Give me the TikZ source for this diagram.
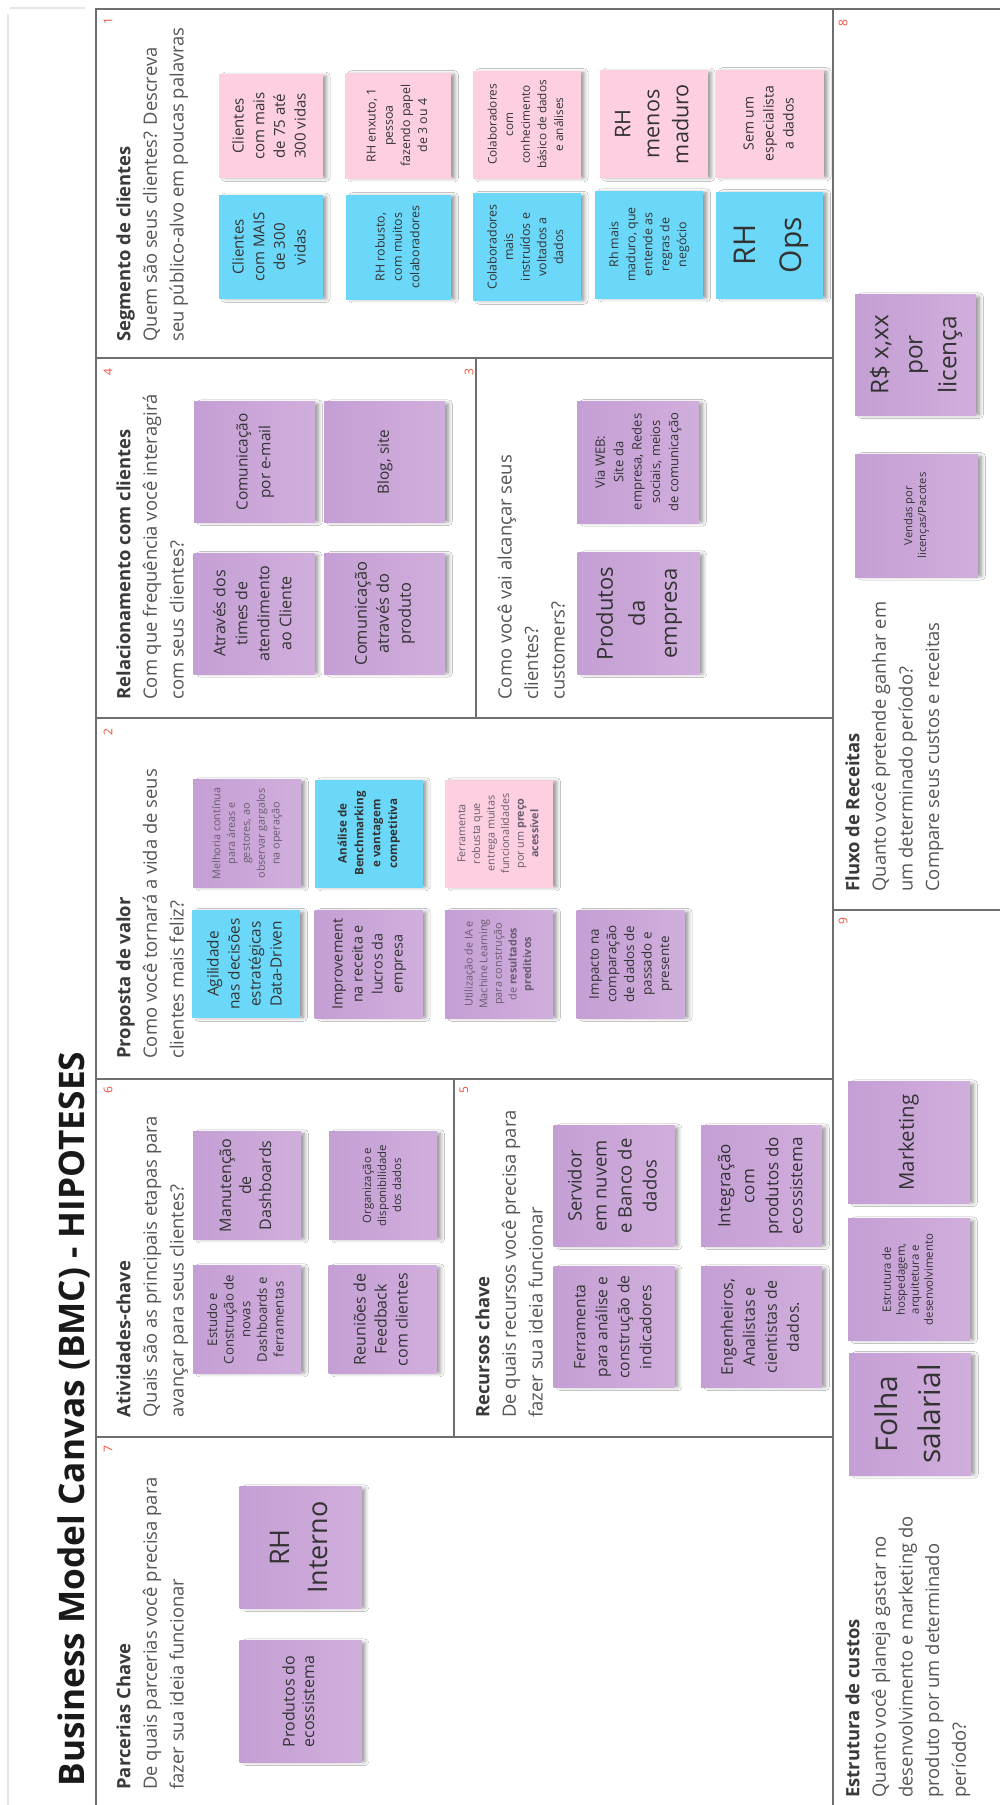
\documentclass[tikz,border=0pt]{standalone}
\usepackage{fontspec}
\setmainfont{Open Sans}
\usetikzlibrary{shadows.blur}

\definecolor{notepink}{HTML}{FDCFE1}
\definecolor{noteblue}{HTML}{6CD8F9}
\definecolor{lilacL}{HTML}{C49FD4}
\definecolor{lilacR}{HTML}{D0AEDC}
\definecolor{ink}{HTML}{333333}
\definecolor{softink}{HTML}{6A5C70}
\definecolor{headdark}{HTML}{3A3A3A}
\definecolor{headgray}{HTML}{555555}
\definecolor{numred}{HTML}{F0503C}
\definecolor{framegray}{HTML}{6E6E6E}

% rotated note text: size, skip, lines
\newcommand{\nt}[3]{\rotatebox{90}{\fontsize{#1}{#2}\selectfont\begin{tabular}{@{}c@{}}#3\end{tabular}}}

\tikzset{
  sticky/.style={minimum width=#1, minimum height=#1, inner sep=0pt, text=ink,
    blur shadow={shadow xshift=2.6pt, shadow yshift=-0.4pt, shadow scale=0.97, shadow blur steps=6, shadow opacity=45}},
  pinknote/.style={sticky=#1, fill=notepink},
  bluenote/.style={sticky=#1, fill=noteblue},
  lilacnote/.style={sticky=#1, left color=lilacL, right color=lilacR}
}
\tikzstyle{head} = [rotate=90, anchor=north west, align=left, inner sep=0pt, text=headgray, font=\fontsize{9.2}{13.3}\selectfont]
\tikzstyle{num} = [rotate=90, inner sep=0pt, text=numred, font=\fontsize{6}{7}\selectfont]
\tikzstyle{frame} = [draw=framegray, line width=1pt]

\begin{document}
\begin{tikzpicture}[x=0.5pt, y=-0.5pt]
        \useasboundingbox[fill=white] (0,0) rectangle (1000,1805);

        % canvas frame
        \draw[black!10, line width=1pt] (8,14) -- (8,1805);
        \draw[black!10, line width=1pt] (10,8) -- (85,8);
        \draw[frame] (96,1805) -- (96,9) -- (1000,9);
        \draw[frame] (833,9) -- (833,1805);
        \draw[frame] (96,358) -- (833,358);
        \draw[frame] (96,718) -- (833,718);
        \draw[frame] (96,1079) -- (833,1079);
        \draw[frame] (96,1437) -- (833,1437);
        \draw[frame] (476,358) -- (476,718);
        \draw[frame] (454,1079) -- (454,1437);
        \draw[frame] (833,910) -- (1000,910);

        \node[rotate=90, anchor=west, inner sep=0pt, text=black!90, font=\bfseries\fontsize{17.6}{20}\selectfont] (title) at (74,1787) {Business Model Canvas (BMC) - HIPOTESES};

        % box numbers
        \node[num] (n1) at (108,21) {1};
        \node[num] (n8) at (843,23) {8};
        \node[num] (n4) at (108,372) {4};
        \node[num] (n3) at (469,372) {3};
        \node[num] (n2) at (108,732) {2};
        \node[num] (n9) at (843,921) {9};
        \node[num] (n6) at (108,1090) {6};
        \node[num] (n5) at (464,1090) {5};
        \node[num] (n7) at (108,1449) {7};

        % headings
        \node[head] (segHead) at (116,342) {\textbf{\color{headdark}Segmento de clientes}\\Quem são seus clientes? Descreva\\seu público-alvo em poucas palavras};
        \node[head] (relHead) at (116,700) {\textbf{\color{headdark}Relacionamento com clientes}\\Com que frequência você interagirá\\com seus clientes?};
        \node[head] (canHead) at (497,700) {Como você vai alcançar seus\\clientes?\\customers?};
        \node[head] (valHead) at (116,1059) {\textbf{\color{headdark}Proposta de valor}\\Como você tornará a vida de seus\\clientes mais feliz?};
        \node[head] (atvHead) at (116,1418) {\textbf{\color{headdark}Atividades-chave}\\Quais são as principais etapas para\\avançar para seus clientes?};
        \node[head] (rcsHead) at (475,1418) {\textbf{\color{headdark}Recursos chave}\\De quais recursos você precisa para\\fazer sua ideia funcionar};
        \node[head] (parHead) at (116,1790) {\textbf{\color{headdark}Parcerias Chave}\\De quais parcerias você precisa para\\fazer sua ideia funcionar};
        \node[head] (fluHead) at (845,892) {\textbf{\color{headdark}Fluxo de Receitas}\\Quanto você pretende ganhar em\\um determinado período?\\Compare seus custos e receitas};
        \node[head] (cusHead) at (845,1798) {\textbf{\color{headdark}Estrutura de custos}\\Quanto você planeja gastar no\\desenvolvimento e marketing do\\produto por um determinado\\período?};

        % segmento de clientes
        \node[pinknote=52pt] (s1) at (270.5,126) {\nt{7.5}{10.3}{Clientes\\com mais\\de 75 até\\300 vidas}};
        \node[pinknote=53pt] (s2) at (398,125.5) {\nt{6.2}{8.6}{RH enxuto, 1\\pessoa\\fazendo papel\\de 3 ou 4}};
        \node[pinknote=54pt] (s3) at (526.5,124.5) {\nt{5.9}{8.3}{Colaboradores\\com\\conhecimento\\básico de dados\\e análises}};
        \node[pinknote=54pt] (s4) at (653.5,124) {\nt{10.8}{14.5}{RH\\menos\\maduro}};
        \node[pinknote=54pt] (s5) at (769.5,123.5) {\nt{7}{10}{Sem um\\especialista\\a dados}};
        \node[bluenote=52pt] (s6) at (270.5,247) {\nt{7.5}{10.3}{Clientes\\com MAIS\\de 300\\vidas}};
        \node[bluenote=52.5pt] (s7) at (398.5,247) {\nt{6.2}{8.7}{RH robusto,\\com muitos\\colaboradores}};
        \node[bluenote=54pt] (s8) at (526.5,247) {\nt{6.2}{8.3}{Colaboradores\\mais\\instruídos e\\voltados a\\dados}};
        \node[bluenote=54pt] (s9) at (649,244.5) {\nt{6.2}{8.5}{Rh mais\\maduro, que\\entende as\\regras de\\negócio}};
        \node[bluenote=53.5pt] (s10) at (769.5,245) {\nt{15}{23}{RH\\Ops}};

        % relacionamento e canais
        \node[lilacnote=60.5pt] (r1) at (254.5,462) {\nt{7.7}{11.3}{Comunicação\\por e-mail}};
        \node[lilacnote=60.5pt] (r2) at (384.5,462) {\nt{7.7}{11}{Blog, site}};
        \node[lilacnote=60.5pt] (r3) at (254,613.5) {\nt{8}{11}{Através dos\\times de\\atendimento\\ao Cliente}};
        \node[lilacnote=60.5pt] (r4) at (384.5,613.5) {\nt{8.2}{11}{Comunicação\\através do\\produto}};
        \node[lilacnote=61pt] (ch1) at (638,462) {\nt{6.5}{9.2}{Via WEB:\\Site da\\empresa, Redes\\sociais, meios\\de comunicação}};
        \node[lilacnote=61pt] (ch2) at (638.5,613.5) {\nt{11}{16}{Produtos\\da\\empresa}};

        % proposta de valor
        \node[lilacnote=54pt] (v1) at (247,833.5) {\color{softink}\nt{5.4}{7.4}{Melhoria contínua\\para áreas e\\gestores, ao\\observar gargalos\\na operação}};
        \node[bluenote=54pt] (v2) at (368.5,833.5) {\bfseries\nt{5.8}{8.4}{Análise de\\Benchmarking\\e vantagem\\competitiva}};
        \node[pinknote=54pt] (v3) at (499,833.5) {\color{softink}\nt{5.4}{7.3}{Ferramenta\\robusta que\\entrega muitas\\funcionalidades\\por um \textbf{preço}\\\textbf{acessível}}};
        \node[bluenote=54pt] (v4) at (246,964) {\nt{7.7}{10.5}{Agilidade\\nas decisões\\estratégicas\\Data-Driven}};
        \node[lilacnote=54pt] (v5) at (368.5,964) {\nt{7.2}{10}{Improvement\\na receita e\\lucros da\\empresa}};
        \node[lilacnote=54pt] (v6) at (499,964) {\color{softink}\nt{5.4}{7.3}{Utilização de IA e\\Machine Learning\\para construção\\de \textbf{resultados}\\\textbf{preditivos}}};
        \node[lilacnote=54pt] (v7) at (630.5,964) {\nt{6.7}{8.8}{Impacto na\\comparação\\de dados de\\passado e\\presente}};

        % atividades-chave
        \node[lilacnote=54pt] (a1) at (247,1185.5) {\nt{8}{10}{Manutenção\\de\\Dashboards}};
        \node[lilacnote=54pt] (a2) at (383,1185.5) {\nt{5.7}{7.5}{Organização e\\disponibilidade\\dos dados}};
        \node[lilacnote=54pt] (a3) at (247,1319.5) {\nt{6.6}{8.3}{Estudo e\\Construção de\\novas\\Dashboards e\\ferramentas}};
        \node[lilacnote=54pt] (a4) at (382.5,1319.5) {\nt{8}{10.5}{Reuniões de\\Feedback\\com clientes}};

        % recursos chave
        \node[lilacnote=60.5pt] (k1) at (614,1186) {\nt{9.2}{12.5}{Servidor\\em nuvem\\e Banco de\\dados}};
        \node[lilacnote=60.5pt] (k2) at (761.5,1186) {\nt{8.5}{12}{Integração\\com\\produtos do\\ecossistema}};
        \node[lilacnote=60.5pt] (k3) at (614,1327) {\nt{7.8}{11}{Ferramenta\\para análise e\\construção de\\indicadores}};
        \node[lilacnote=60.5pt] (k4) at (761.5,1327) {\nt{8}{11}{Engenheiros,\\Analistas e\\cientistas de\\dados.}};

        % parcerias chave
        \node[lilacnote=61pt] (pc1) at (300.5,1547.5) {\nt{13.5}{19}{RH\\Interno}};
        \node[lilacnote=61pt] (pc2) at (300.5,1701.5) {\nt{8}{9.8}{Produtos do\\ecossistema}};

        % receitas e custos
        \node[lilacnote=60.5pt] (f1) at (915.5,355) {\nt{12.2}{17}{R\$ x,xx\\por\\licença}};
        \node[lilacnote=61.5pt] (f2) at (916.5,515.5) {\nt{5.6}{6.9}{Vendas por\\licenças/Pacotes}};
        \node[lilacnote=61pt] (e1) at (909,1142.5) {\nt{10.2}{12}{Marketing}};
        \node[lilacnote=61pt] (e2) at (909,1279.5) {\nt{5.7}{7}{Estrutura de\\hospedagem,\\arquitetura e\\desenvolvimento}};
        \node[lilacnote=61pt] (e3) at (910,1414) {\nt{15}{21.5}{Folha\\salarial}};
      \end{tikzpicture}
\end{document}
